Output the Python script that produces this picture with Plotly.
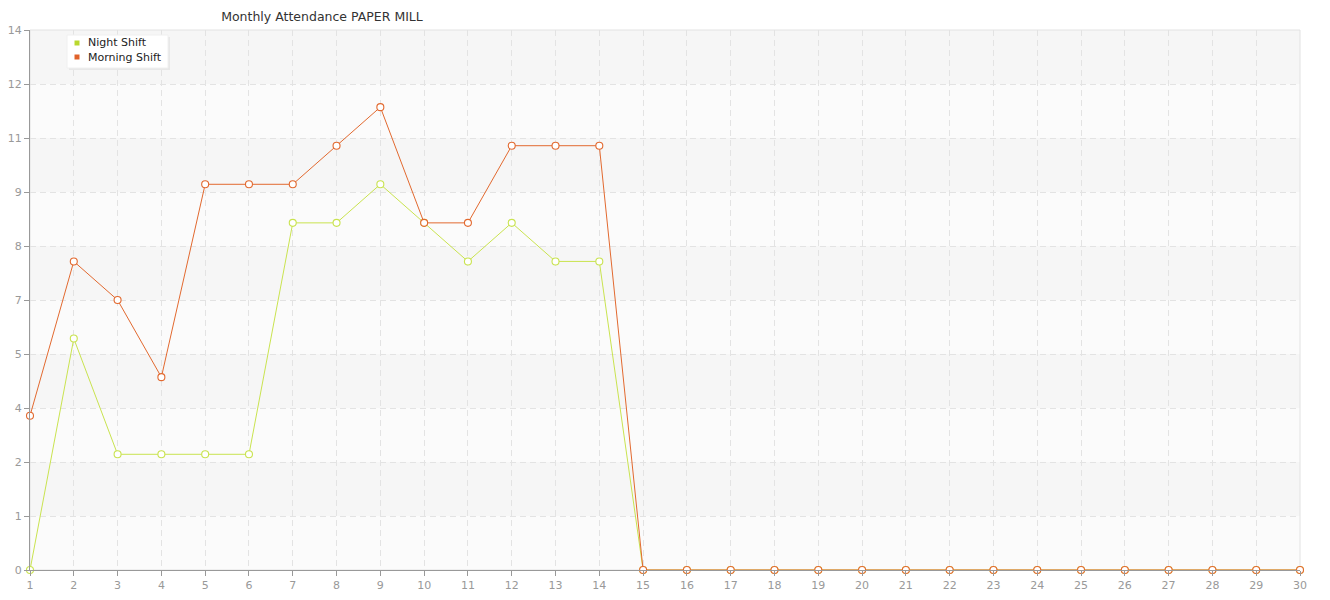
import plotly.graph_objects as go
import math

days = list(range(1, 31))
night_shift = [0, 6, 3, 3, 3, 3, 9, 9, 10, 9, 8, 9, 8, 8] + [0] * 16
morning_shift = [4, 8, 7, 5, 10, 10, 10, 11, 12, 9, 9, 11, 11, 11] + [0] * 16
series_names = ["Night Shift", "Morning Shift"]
series_colors = ["#c9e34f", "#e2692f"]
legend_colors = ["#b9d82e", "#e0622a"]
y_tick_vals = [i * 1.4 for i in range(11)]
y_tick_text = [str(int(math.floor(v + 1e-9))) for v in y_tick_vals]

W, H = 1330, 600
L, R, T, B = 30, 30, 30, 30

fig = go.Figure()
for name, vals, col in zip(series_names, [night_shift, morning_shift], series_colors):
    fig.add_trace(go.Scatter(
        x=days, y=vals, name=name, mode="lines+markers", showlegend=False,
        line=dict(color=col, width=1),
        marker=dict(symbol="circle", size=7, color="white", line=dict(color=col, width=1.1)),
        cliponaxis=False,
    ))

# alternating faint bands (hatched-look bands slightly darker)
for i in range(10):
    if i % 2 == 1:
        fig.add_shape(type="rect", xref="paper", yref="y", x0=0, x1=1,
                      y0=y_tick_vals[i], y1=y_tick_vals[i + 1],
                      fillcolor="#f6f6f6", line=dict(width=0), layer="below")
# light frame top/right
fig.add_shape(type="rect", xref="paper", yref="paper", x0=0, x1=1, y0=0, y1=1,
              line=dict(color="#e2e2e2", width=1), fillcolor="rgba(0,0,0,0)", layer="below")

# manual legend
pw = W - L - R
ph = H - T - B
def px_x(p):
    return (p - L) / pw
def px_y(p):
    return 1 - (p - T) / ph

fig.add_shape(type="rect", xref="paper", yref="paper",
              x0=px_x(69), x1=px_x(170), y0=px_y(70), y1=px_y(37),
              fillcolor="#e8e8e8", line=dict(width=0))
fig.add_shape(type="rect", xref="paper", yref="paper",
              x0=px_x(67), x1=px_x(168), y0=px_y(68), y1=px_y(35),
              fillcolor="white", line=dict(color="#f0f0f0", width=1))
for k, (name, col) in enumerate(zip(series_names, legend_colors)):
    yc = 43 + 14 * k
    fig.add_shape(type="rect", xref="paper", yref="paper",
                  x0=px_x(74.5), x1=px_x(79.5), y0=px_y(yc + 2.5), y1=px_y(yc - 2.5),
                  fillcolor=col, line=dict(width=0))
    fig.add_annotation(xref="paper", yref="paper", x=px_x(86), y=px_y(yc),
                       xanchor="left", yanchor="middle", showarrow=False,
                       text=name, font=dict(family="DejaVu Sans", size=11, color="#222222"))

fig.update_layout(
    width=W, height=H,
    margin=dict(l=L, r=R, t=T, b=B, autoexpand=False),
    paper_bgcolor="white",
    plot_bgcolor="#fbfbfb",
    font=dict(family="DejaVu Sans", size=11, color="#999999"),
    title=dict(text="Monthly Attendance PAPER MILL", x=322 / W, xanchor="center",
               y=1 - 17 / H, yanchor="middle",
               font=dict(family="DejaVu Sans", size=12.5, color="#333333")),
    showlegend=False,
    xaxis=dict(range=[1, 30], tickmode="array", tickvals=days,
               ticktext=[str(d) for d in days], automargin=False,
               showgrid=True, gridcolor="#e3e3e3", griddash="6px,4px", gridwidth=1,
               showline=True, linecolor="#999999", linewidth=1,
               ticks="outside", ticklen=5, tickcolor="#999999",
               zeroline=False,
               tickfont=dict(size=11, color="#999999")),
    yaxis=dict(range=[0, 14], tickmode="array", tickvals=y_tick_vals, ticktext=y_tick_text,
               automargin=False,
               showgrid=True, gridcolor="#e3e3e3", griddash="6px,4px", gridwidth=1,
               showline=True, linecolor="#999999", linewidth=1,
               ticks="outside", ticklen=5, tickcolor="#999999",
               zeroline=False,
               tickfont=dict(size=11, color="#999999")),
)

fig.write_html("out.html", config={"displayModeBar": False},
               post_script="document.body.style.margin='0';document.body.style.overflow='hidden';")
